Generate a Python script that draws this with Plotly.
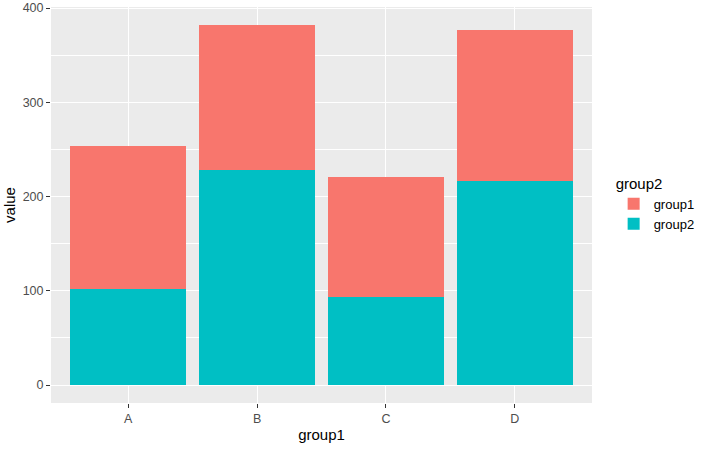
import plotly.graph_objects as go

categories = ['A', 'B', 'C', 'D']
group1_values = [152, 154, 128, 161]
group2_values = [102, 228, 93, 216]
y_ticks = [0, 100, 200, 300, 400]

fill_colors = {'group1': '#F8766D', 'group2': '#00BFC4'}


def main():
    fig = go.Figure()
    # group2 first so it sits at the bottom of each stack
    fig.add_trace(go.Bar(x=categories, y=group2_values, name='group2',
                         marker_color=fill_colors['group2'], marker_line_width=0))
    fig.add_trace(go.Bar(x=categories, y=group1_values, name='group1',
                         marker_color=fill_colors['group1'], marker_line_width=0))

    top = max(a + b for a, b in zip(group1_values, group2_values))
    pad = top * 0.05

    fig.update_layout(
        barmode='stack', bargap=0.1,
        width=701, height=451,
        margin=dict(l=51, r=109, t=7, b=48, autoexpand=False),
        paper_bgcolor='white', plot_bgcolor='#EBEBEB',
        font=dict(family='Liberation Sans, Arial', size=12.5, color='#4D4D4D'),
        legend=dict(title=dict(text='group2', font=dict(size=15, color='black')),
                    traceorder='reversed', x=1.04, y=0.59, yanchor='top',
                    font=dict(size=13, color='black'), bgcolor='white'),
        showlegend=True,
    )
    fig.update_xaxes(title=dict(text='group1', font=dict(size=15, color='black'), standoff=4),
                     range=[-0.6, 3.6], showgrid=True, gridcolor='white', gridwidth=1.2,
                     ticks='outside', ticklen=4, tickcolor='#333333', zeroline=False)
    fig.update_yaxes(title=dict(text='value', font=dict(size=15, color='black'), standoff=3),
                     range=[-pad, top + pad], tickvals=y_ticks,
                     showgrid=True, gridcolor='white', gridwidth=1.2,
                     minor=dict(dtick=50, showgrid=True, gridcolor='white', gridwidth=0.6),
                     ticks='outside', ticklen=4, tickcolor='#333333', zeroline=False)

    # page body has an 8px default margin; drop it so the figure fills the window
    fig.write_html('out.html', config={'displayModeBar': False},
                   post_script="document.body.style.margin='0';")


if __name__ == '__main__':
    main()
